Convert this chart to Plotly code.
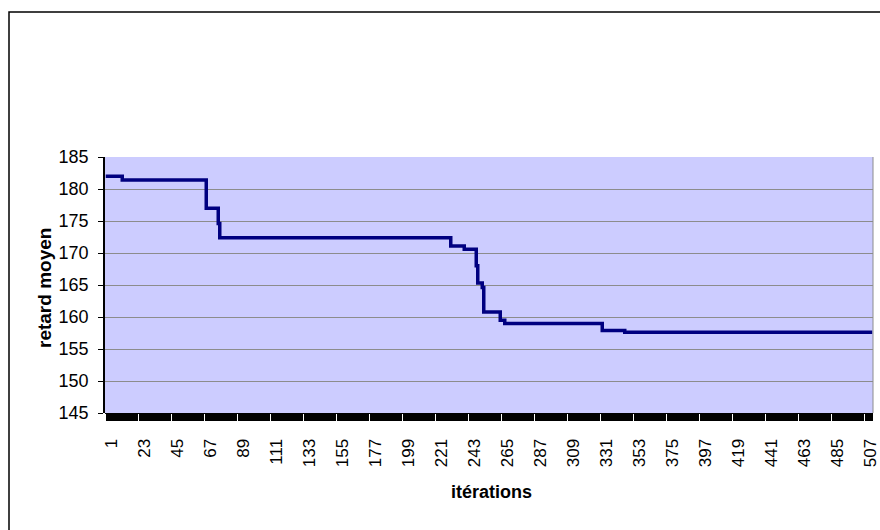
import plotly.graph_objects as go

# Step breakpoints of the mean delay (iteration where a new level starts)
iterations = [1, 12, 68, 76, 77, 231, 240, 248, 249, 252, 253, 264, 267, 332, 347, 512]
retard_moyen = [182.0, 181.4, 177.0, 174.6, 172.4, 171.1, 170.6, 168.0, 165.3, 164.6,
                160.8, 159.5, 159.0, 157.9, 157.6, 157.6]
n_iterations = 512
x_tick_vals = list(range(1, 508, 22))
x_tick_text = [str(v) for v in x_tick_vals]
y_tick_vals = [145, 150, 155, 160, 165, 170, 175, 180, 185]

FONT = "Liberation Sans, Arial, sans-serif"

fig = go.Figure()
fig.add_trace(go.Scatter(
    x=iterations, y=retard_moyen, mode="lines",
    line=dict(color="#000080", width=3.5, shape="hv"),
    hoverinfo="x+y", showlegend=False,
))

PW, PH = 768, 256

fig.update_layout(
    width=880, height=530,
    margin=dict(l=105, r=7, t=157, b=117),
    paper_bgcolor="white",
    plot_bgcolor="#CCCCFF",
    font=dict(family=FONT, color="black", size=17),
    xaxis=dict(
        range=[0.5, n_iterations + 0.5], automargin=False,
        tickmode="array", tickvals=x_tick_vals, ticktext=x_tick_text,
        tickangle=-90,
        ticks="outside", ticklen=8, tickwidth=1, tickcolor="white",
        ticklabelstandoff=10, ticklabelshift=6, ticklabeloverflow="allow",
        showgrid=False, zeroline=False, showline=False,
        tickfont=dict(family=FONT, size=17, color="black"),
    ),
    yaxis=dict(
        range=[145, 185], automargin=False,
        tickmode="array", tickvals=y_tick_vals,
        ticks="outside", ticklen=5, tickwidth=1, tickcolor="black",
        ticklabelstandoff=6,
        showgrid=True, gridcolor="#8C8C8C", gridwidth=1,
        zeroline=False, showline=True, linecolor="black", linewidth=1.5,
        tickfont=dict(family=FONT, size=18, color="black"),
    ),
    shapes=[
        # dense category tick band under the x axis
        dict(type="rect", xref="paper", yref="paper", x0=0, x1=1,
             y0=-8 / PH, y1=0, fillcolor="black", line=dict(width=0), layer="below"),
        # plot area border (right side)
        dict(type="line", xref="paper", yref="paper", x0=1, x1=1, y0=0, y1=1,
             line=dict(color="#8C8C8C", width=1)),
        # chart outer frame
        dict(type="rect", xref="paper", yref="paper",
             x0=(9 - 105) / PW, x1=(900 - 105) / PW,
             y0=(413 - 560) / PH, y1=(413 - 12) / PH,
             line=dict(color="black", width=1.5), fillcolor="rgba(0,0,0,0)"),
    ],
    annotations=[
        dict(text="<b>itérations</b>", xref="paper", yref="paper",
             x=(491 - 105) / PW, y=(413 - 492) / PH, showarrow=False,
             xanchor="center", yanchor="middle",
             font=dict(family=FONT, size=18, color="black")),
        dict(text="<b>retard moyen</b>", xref="paper", yref="paper",
             x=(44 - 105) / PW, y=(413 - 288) / PH, showarrow=False, textangle=-90,
             xanchor="center", yanchor="middle",
             font=dict(family=FONT, size=19, color="black")),
    ],
)

fig.write_html("out.html", config={"displayModeBar": False},
               post_script="document.body.style.margin='0';")
